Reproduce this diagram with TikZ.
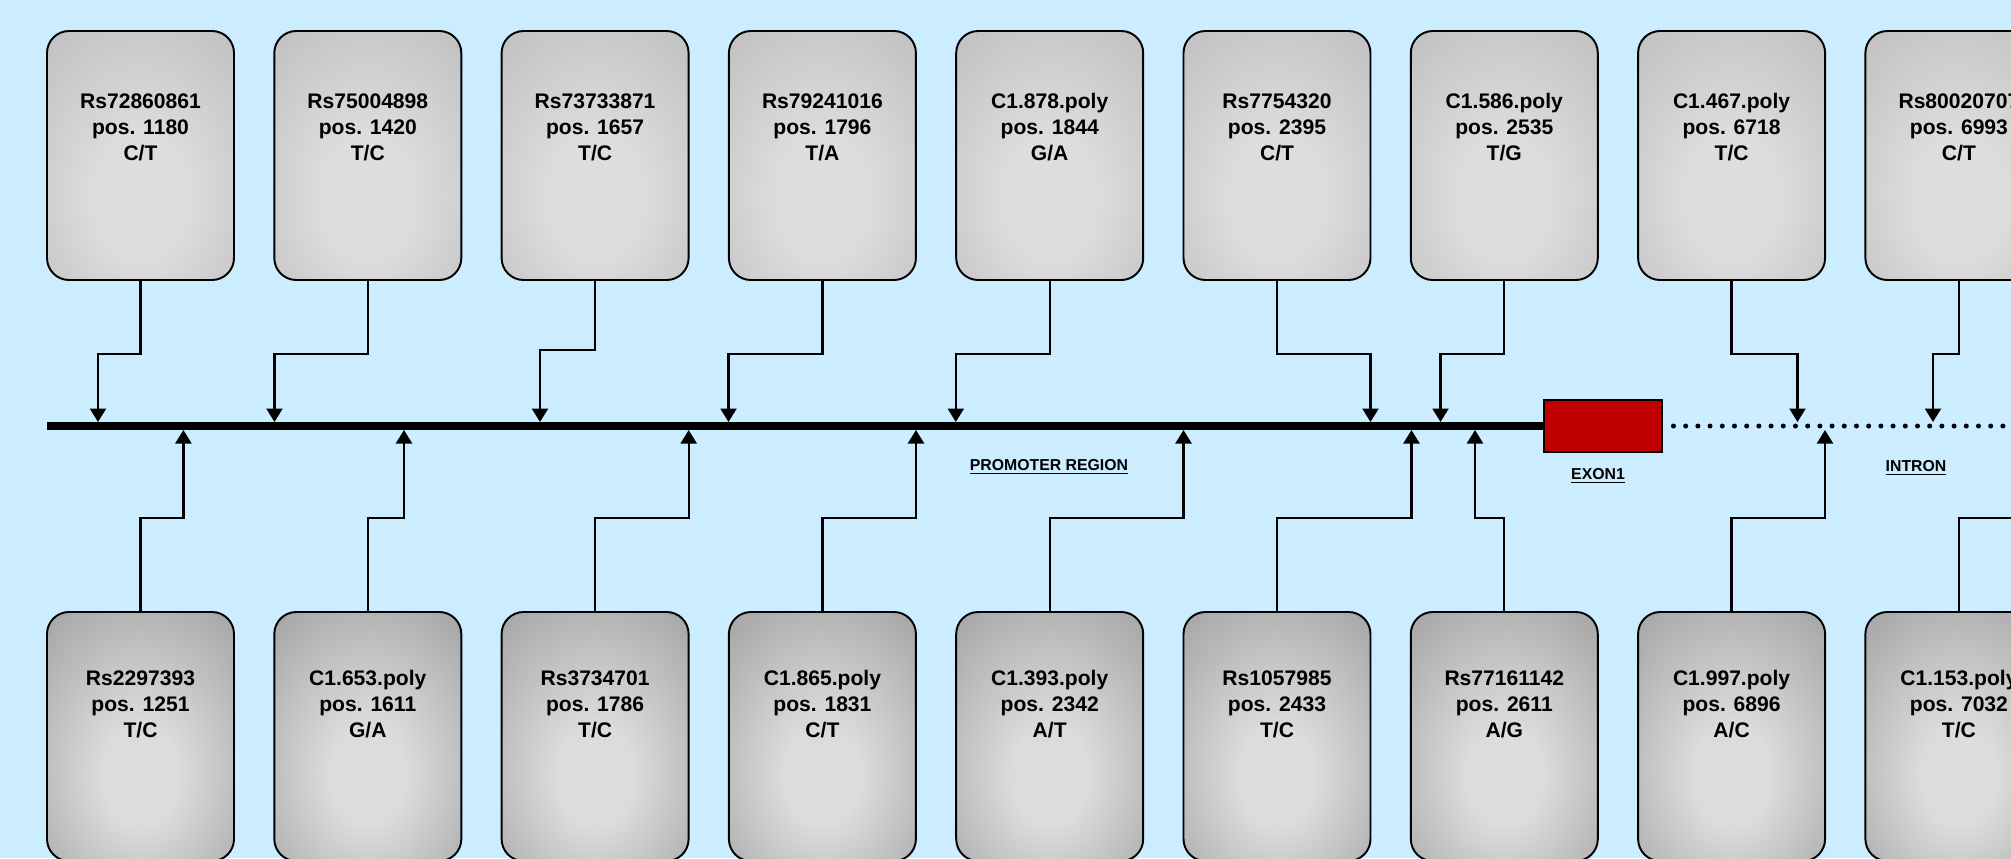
\documentclass[tikz,border=0pt]{standalone}
\usepackage{fontspec}
\setmainfont{Liberation Sans}
\usetikzlibrary{arrows.meta}

\definecolor{bgblue}{RGB}{204,236,255}
\definecolor{exonred}{RGB}{192,0,0}
\definecolor{topgray}{RGB}{189,189,189}
\definecolor{toplight}{RGB}{221,221,221}
\definecolor{lowgray}{RGB}{162,162,162}
\definecolor{lowlight}{RGB}{220,220,220}

\pgfdeclareradialshading{topglow}{\pgfpoint{0bp}{-10bp}}{color(0bp)=(toplight); color(12bp)=(toplight); color(42bp)=(topgray); color(80bp)=(topgray)}
\pgfdeclareradialshading{lowglow}{\pgfpoint{0bp}{-9bp}}{color(0bp)=(lowlight); color(10bp)=(lowlight); color(40bp)=(lowgray); color(80bp)=(lowgray)}

\tikzset{
  snpbox/.style={draw=black, line width=1.1pt, rounded corners=4.4mm,
    minimum width=37.4mm, minimum height=49.8mm, inner sep=0pt},
  upper/.style={snpbox, shade, shading=topglow},
  lower/.style={snpbox, shade, shading=lowglow},
  snptext/.style={align=center, font=\fontsize{12}{14.8}\selectfont\bfseries},
  regiontext/.style={font=\fontsize{9}{11}\selectfont\bfseries},
  exon/.style={draw=black, fill=exonred, line width=1.1pt, inner sep=0pt,
    minimum width=23.6mm, minimum height=10.4mm},
  link/.style={line width=1.3pt, -{Triangle[width=3.2mm,length=2.7mm]}},
}

\begin{document}
\begin{tikzpicture}[x=0.2mm,y=-0.2mm]
\path[use as bounding box, clip] (0,0) rectangle (2011,858);
\fill[bgblue] (0,0) rectangle (2011,858);

% upper row
\node[upper] (t1) at (140.5,155.5) {};
\node[upper] (t2) at (367.8,155.5) {};
\node[upper] (t3) at (595.1,155.5) {};
\node[upper] (t4) at (822.4,155.5) {};
\node[upper] (t5) at (1049.7,155.5) {};
\node[upper] (t6) at (1277,155.5) {};
\node[upper] (t7) at (1504.3,155.5) {};
\node[upper] (t8) at (1731.6,155.5) {};
\node[upper] (t9) at (1958.9,155.5) {};

\node[snptext] (t1txt) at (140.5,127) {Rs72860861\\pos. 1180\\C/T};
\node[snptext] (t2txt) at (367.8,127) {Rs75004898\\pos. 1420\\T/C};
\node[snptext] (t3txt) at (595.1,127) {Rs73733871\\pos. 1657\\T/C};
\node[snptext] (t4txt) at (822.4,127) {Rs79241016\\pos. 1796\\T/A};
\node[snptext] (t5txt) at (1049.7,127) {C1.878.poly\\pos. 1844\\G/A};
\node[snptext] (t6txt) at (1277,127) {Rs7754320\\pos. 2395\\C/T};
\node[snptext] (t7txt) at (1504.3,127) {C1.586.poly\\pos. 2535\\T/G};
\node[snptext] (t8txt) at (1731.6,127) {C1.467.poly\\pos. 6718\\T/C};
\node[snptext] (t9txt) at (1958.9,127) {Rs80020707\\pos. 6993\\C/T};

% lower row
\node[lower] (b1) at (140.5,736.5) {};
\node[lower] (b2) at (367.8,736.5) {};
\node[lower] (b3) at (595.1,736.5) {};
\node[lower] (b4) at (822.4,736.5) {};
\node[lower] (b5) at (1049.7,736.5) {};
\node[lower] (b6) at (1277,736.5) {};
\node[lower] (b7) at (1504.3,736.5) {};
\node[lower] (b8) at (1731.6,736.5) {};
\node[lower] (b9) at (1958.9,736.5) {};

\node[snptext] (b1txt) at (140.5,704) {Rs2297393\\pos. 1251\\T/C};
\node[snptext] (b2txt) at (367.8,704) {C1.653.poly\\pos. 1611\\G/A};
\node[snptext] (b3txt) at (595.1,704) {Rs3734701\\pos. 1786\\T/C};
\node[snptext] (b4txt) at (822.4,704) {C1.865.poly\\pos. 1831\\C/T};
\node[snptext] (b5txt) at (1049.7,704) {C1.393.poly\\pos. 2342\\A/T};
\node[snptext] (b6txt) at (1277,704) {Rs1057985\\pos. 2433\\T/C};
\node[snptext] (b7txt) at (1504.3,704) {Rs77161142\\pos. 2611\\A/G};
\node[snptext] (b8txt) at (1731.6,704) {C1.997.poly\\pos. 6896\\A/C};
\node[snptext] (b9txt) at (1958.9,704) {C1.153.poly\\pos. 7032\\T/C};

% gene
\node[exon] (exon) at (1603,426) {};
\coordinate (start) at (47,426);
\coordinate (end) at (2030,426);
\draw[line width=4.6pt] (start) -- (exon.west);
\draw[line width=1mm, line cap=round, dash pattern=on 0pt off 2.44mm]
  ([xshift=2.1mm]exon.east) -- (end);

\node[regiontext] (promoter) at (1049,467) {\underline{PROMOTER REGION}};
\node[regiontext] (exonlabel) at (1598,476) {\underline{EXON1}};
\node[regiontext] (intron) at (1916,468) {\underline{INTRON}};

% arrow tips on the gene
\coordinate (d1) at (98,422);
\coordinate (d2) at (274.5,422);
\coordinate (d3) at (540,422);
\coordinate (d4) at (728.5,422);
\coordinate (d5) at (955.8,422);
\coordinate (d6) at (1370.5,422);
\coordinate (d7) at (1440.5,422);
\coordinate (d8) at (1797.5,422);
\coordinate (d9) at (1933,422);

\coordinate (u1) at (183.4,430);
\coordinate (u2) at (404,430);
\coordinate (u3) at (688.7,430);
\coordinate (u4) at (916,430);
\coordinate (u5) at (1183.5,430);
\coordinate (u6) at (1411.5,430);
\coordinate (u7) at (1475,430);
\coordinate (u8) at (1825,430);
\coordinate (u9) at (2090,430);

\draw[link] (t1.south) -- ++(0,73) -| (d1);
\draw[link] (t2.south) -- ++(0,73) -| (d2);
\draw[link] (t3.south) -- ++(0,69) -| (d3);
\draw[link] (t4.south) -- ++(0,73) -| (d4);
\draw[link] (t5.south) -- ++(0,73) -| (d5);
\draw[link] (t6.south) -- ++(0,73) -| (d6);
\draw[link] (t7.south) -- ++(0,73) -| (d7);
\draw[link] (t8.south) -- ++(0,73) -| (d8);
\draw[link] (t9.south) -- ++(0,73) -| (d9);

\draw[link] (b1.north) -- ++(0,-93) -| (u1);
\draw[link] (b2.north) -- ++(0,-93) -| (u2);
\draw[link] (b3.north) -- ++(0,-93) -| (u3);
\draw[link] (b4.north) -- ++(0,-93) -| (u4);
\draw[link] (b5.north) -- ++(0,-93) -| (u5);
\draw[link] (b6.north) -- ++(0,-93) -| (u6);
\draw[link] (b7.north) -- ++(0,-93) -| (u7);
\draw[link] (b8.north) -- ++(0,-93) -| (u8);
\draw[link] (b9.north) -- ++(0,-93) -| (u9);
\end{tikzpicture}
\end{document}
